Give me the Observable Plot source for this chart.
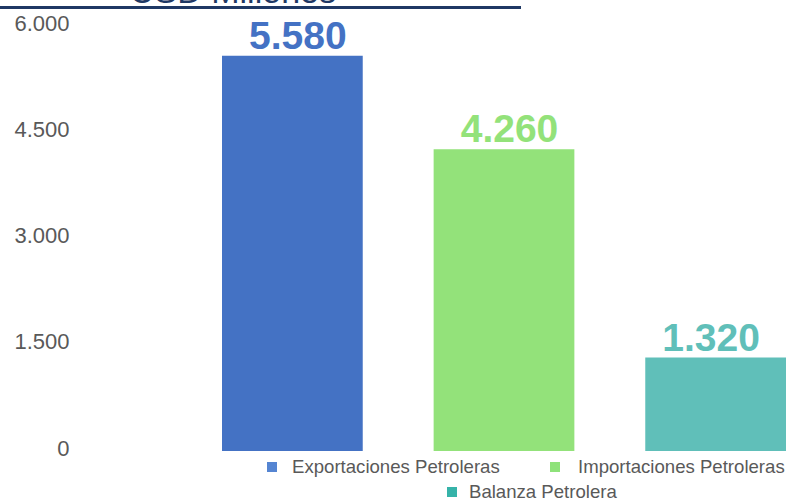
<!DOCTYPE html>
<html>
<head>
<meta charset="utf-8">
<script src="https://cdn.jsdelivr.net/npm/d3@7"></script>
<script src="https://cdn.jsdelivr.net/npm/@observablehq/plot@0.6"></script>
<style>
  html, body { margin: 0; padding: 0; background: #fff; }
  body { width: 787px; height: 501px; overflow: hidden; position: relative;
         font-family: "Liberation Sans", Arial, sans-serif; }
  #chart { position: absolute; left: 0; top: 0; }
  #chart svg { background: transparent !important; }
  #title { position: absolute; left: 0; top: -26px; width: 466px; text-align: center;
           font-size: 34px; line-height: 34px; color: #1f3864; white-space: nowrap; }
  #rule { position: absolute; left: 0; top: 6px; width: 521px; height: 2.5px; background: #1f3864; }
  .lg { position: absolute; font-size: 18.6px; line-height: 18px; color: #595959; white-space: nowrap; }
  .sw { position: absolute; width: 10px; height: 10px; }
</style>
</head>
<body>
<div id="chart"></div>
<div id="title">USD Millones</div>
<div id="rule"></div>
<div id="legend"></div>
<script>
// ---- data ----
const categories = ["Exportaciones Petroleras", "Importaciones Petroleras", "Balanza Petrolera"];
const values = [5580, 4260, 1320];
const colors = ["#4472C4", "#93E27A", "#60BFB9"];
const legendColors = ["#5585D2", "#8EE27A", "#36B3A9"];
const yTicks = [0, 1500, 3000, 4500, 6000];

const fmt = d3.formatLocale({decimal: ",", thousands: ".", grouping: [3], currency: ["", ""]}).format(",");
const rows = categories.map((c, i) => ({category: c, value: values[i]}));

const chart = Plot.plot({
  width: 787,
  height: 460,
  marginTop: 26,
  marginBottom: 9,
  marginLeft: 222,
  marginRight: 1,
  style: {fontFamily: "Liberation Sans, Arial, sans-serif", background: "transparent"},
  x: {domain: categories, axis: null, paddingInner: 0.335, paddingOuter: 0, align: 0, round: false},
  y: {domain: [0, 6000]},
  color: {domain: categories, range: colors},
  marks: [
    Plot.axisY({ticks: yTicks, tickFormat: fmt, tickSize: 0, tickPadding: 153,
                fontSize: 22, color: "#595959", dy: -3, label: null}),
    Plot.barY(rows, {x: "category", y: "value", fill: "category"}),
    Plot.text(rows.slice(0, 2), {x: "category", y: "value", text: d => fmt(d.value),
      fill: "category", fontSize: 39, fontWeight: "bold", lineAnchor: "bottom", dy: -7.5, dx: 5}),
    Plot.text(rows.slice(2), {x: "category", y: "value", text: d => fmt(d.value),
      fill: "category", fontSize: 39, fontWeight: "bold", lineAnchor: "bottom", dy: -7.5, dx: -5})
  ]
});
document.getElementById("chart").appendChild(chart);

// legend (HTML, below the plot area)
const legendPos = [
  {sx: 267, tx: 292, y: 467},
  {sx: 550, tx: 578, y: 467},
  {sx: 447, tx: 469, y: 492}
];
const lg = document.getElementById("legend");
categories.forEach((c, i) => {
  const p = legendPos[i];
  const sw = document.createElement("div");
  sw.className = "sw";
  sw.style.left = p.sx + "px";
  sw.style.top = (p.y - 5) + "px";
  sw.style.background = legendColors[i];
  lg.appendChild(sw);
  const t = document.createElement("div");
  t.className = "lg";
  t.style.left = p.tx + "px";
  t.style.top = (p.y - 9) + "px";
  t.textContent = c;
  lg.appendChild(t);
});
</script>
</body>
</html>
